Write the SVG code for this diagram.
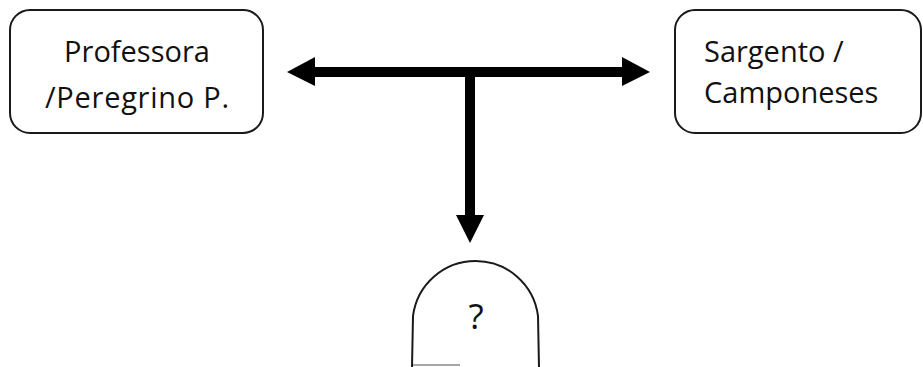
<svg xmlns="http://www.w3.org/2000/svg" width="923" height="367" viewBox="0 0 923 367">
  <defs>
    <style>
      .box { fill: #ffffff; stroke: #1a1a1a; stroke-width: 2; }
      .label { font-family: "Open Sans", "Liberation Sans", sans-serif; font-size: 29px; fill: #111111; }
      .wire { stroke: #000000; stroke-width: 10; fill: none; }
      .head { fill: #000000; stroke: none; }
    </style>
  </defs>
  <rect width="923" height="367" fill="#ffffff"/>

  <g id="node-professora">
    <rect class="box" x="10" y="10" width="253" height="123" rx="20" ry="20"/>
    <text class="label" x="137" y="62" text-anchor="middle">Professora</text>
    <text class="label" x="137" y="108" text-anchor="middle" textLength="184" lengthAdjust="spacing">/Peregrino P.</text>
  </g>

  <g id="node-sargento">
    <rect class="box" x="675" y="10" width="246" height="123" rx="20" ry="20"/>
    <text class="label" x="704" y="62">Sargento /</text>
    <text class="label" x="704" y="103">Camponeses</text>
  </g>

  <g id="node-unknown">
    <path class="box" d="M412,367 L413,316 A63,63 0 0 1 538,316 L539,367"/>
    <line x1="413" y1="365" x2="460" y2="365" stroke="#888888" stroke-width="1.5"/>
    <text class="label" x="476" y="329" text-anchor="middle" style="font-size:35px">?</text>
  </g>

  <g id="connectors">
    <line class="wire" x1="312" y1="72" x2="625" y2="72"/>
    <polygon class="head" points="287,72 315,57 315,86"/>
    <polygon class="head" points="650,72 622,57 622,86"/>
    <line class="wire" x1="470" y1="72" x2="470" y2="218"/>
    <polygon class="head" points="470,243 456,215 484,215"/>
  </g>
</svg>
